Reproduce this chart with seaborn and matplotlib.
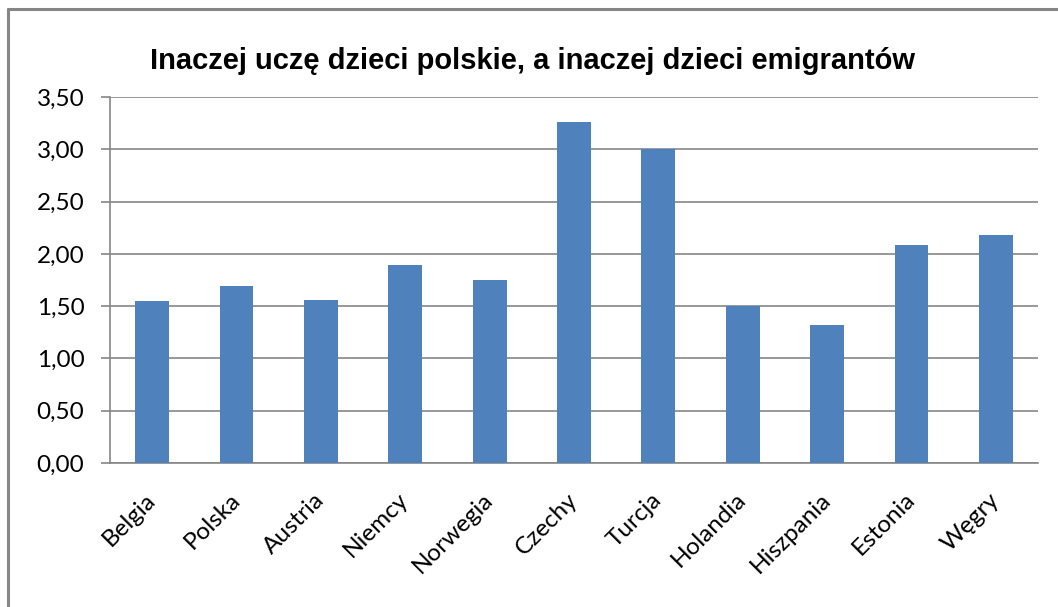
import matplotlib
matplotlib.use('Agg')
import matplotlib.pyplot as plt
import seaborn as sns
import pandas as pd
from matplotlib.lines import Line2D
from matplotlib.ticker import FuncFormatter, MultipleLocator

kraje = ['Belgia', 'Polska', 'Austria', 'Niemcy', 'Norwegia', 'Czechy',
         'Turcja', 'Holandia', 'Hiszpania', 'Estonia', 'Węgry']
wartosci = [1.55, 1.69, 1.56, 1.89, 1.75, 3.26, 3.00, 1.50, 1.32, 2.08, 2.18]
tytul = 'Inaczej uczę dzieci polskie, a inaczej dzieci emigrantów'

df = pd.DataFrame({'kraj': kraje, 'wartosc': wartosci})

sns.set_style('white')
plt.rcParams['font.family'] = ['Lato', 'DejaVu Sans']
plt.rcParams['text.color'] = 'black'
plt.rcParams['xtick.color'] = 'black'
plt.rcParams['ytick.color'] = 'black'

fig = plt.figure(figsize=(10.58, 6.07), dpi=100)
W, H = 1058, 607
ax = fig.add_axes([110 / W, 1 - 463 / H, (1038 - 110) / W, (463 - 97) / H])

sns.barplot(data=df, x='kraj', y='wartosc', color='#4f81bd', width=0.40,
            saturation=1, linewidth=0, ax=ax, zorder=3)

ax.set_ylim(0, 3.5)
ax.set_xlim(-0.5, len(kraje) - 0.5)
ax.yaxis.set_major_locator(MultipleLocator(0.5))
ax.yaxis.set_major_formatter(FuncFormatter(lambda v, p: f'{v:.2f}'.replace('.', ',')))
ax.grid(axis='y', color='#868686', linewidth=1.2, zorder=0)
ax.set_xlabel('')
ax.set_ylabel('')

for s in ['top', 'right']:
    ax.spines[s].set_visible(False)
for s in ['left', 'bottom']:
    ax.spines[s].set_color('#868686')
    ax.spines[s].set_linewidth(1.2)

# ticks on category boundaries
ax.set_xticks([i - 0.5 for i in range(len(kraje) + 1)], minor=True)
ax.tick_params(axis='x', which='minor', length=5.5, color='#868686', width=1.2)
ax.tick_params(axis='x', which='major', length=0, pad=24)
ax.tick_params(axis='y', length=6.5, color='#868686', width=1.2, labelsize=17.5,
               pad=12, left=True)
ax.set_xticks(range(len(kraje)))
ax.set_xticklabels(kraje, rotation=45, ha='right', rotation_mode='anchor',
                   fontsize=17.5)
for lab in ax.get_xticklabels():
    lab.set_va('center')

fig.text(532 / W, 1 - 69 / H, tytul, ha='center', va='baseline',
         fontsize=21, fontweight='bold', family=['Liberation Sans', 'DejaVu Sans'])

# chart frame (left and top edges visible)
fig.add_artist(Line2D([8 / W, 8 / W], [0, 1 - 9 / H], transform=fig.transFigure,
                      color='#868686', linewidth=2.2))
fig.add_artist(Line2D([8 / W, 1], [1 - 9 / H, 1 - 9 / H], transform=fig.transFigure,
                      color='#868686', linewidth=2.2))

plt.savefig('out.png', dpi=100)
